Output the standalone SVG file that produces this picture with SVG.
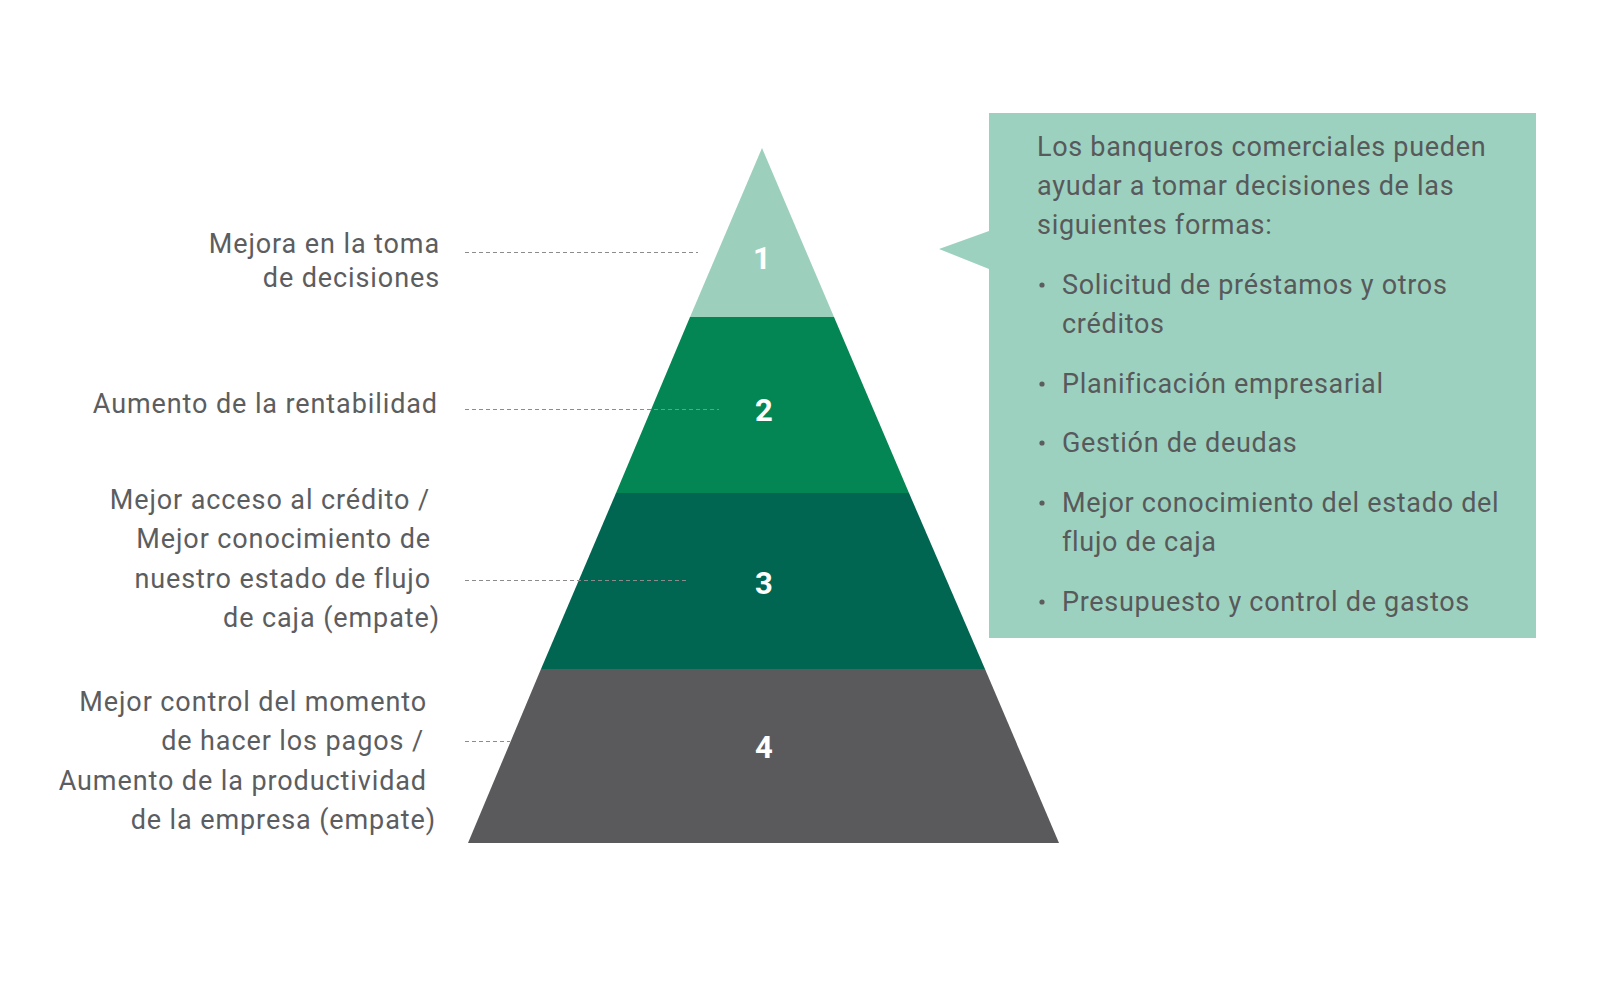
<svg xmlns="http://www.w3.org/2000/svg" width="1600" height="1000" viewBox="0 0 1600 1000">
<style>
.lbl{font-family:Roboto,"Open Sans","Liberation Sans",sans-serif;font-size:27px;fill:#5c5d5f;text-anchor:end;letter-spacing:0.9px}
.box{font-family:Roboto,"Open Sans","Liberation Sans",sans-serif;font-size:27px;fill:#58595b;letter-spacing:0.7px}
.num{font-family:Roboto,"Open Sans","Liberation Sans",sans-serif;font-size:31px;font-weight:bold;fill:#ffffff;text-anchor:middle}
.dash{stroke:#8c8c8c;stroke-width:1.2;stroke-dasharray:4 3;fill:none}
</style>
<rect width="1600" height="1000" fill="#ffffff"/>
<g id="tier1"><polygon points="762,148 834,317 690,317" fill="#9cd0bd"/><text class="num" x="762" y="269">1</text></g>
<g id="tier2"><polygon points="690,317 834,317 909,493 616,493" fill="#038654"/><text class="num" x="764" y="421">2</text></g>
<g id="tier3"><polygon points="616,493 909,493 985,669 541,669" fill="#006651"/><text class="num" x="764" y="594">3</text></g>
<g id="tier4"><polygon points="541,669 985,669 1059,843 468,843" fill="#5a5a5c"/><text class="num" x="764" y="758">4</text></g>
<g id="connectors">
<line class="dash" x1="465" y1="252.5" x2="698" y2="252.5"/>
<line class="dash" x1="465" y1="409.5" x2="719" y2="409.5"/>
<line class="dash" x1="465" y1="580.5" x2="689" y2="580.5"/>
<line class="dash" x1="465" y1="741.5" x2="510" y2="741.5"/>
</g>
<g id="label1">
<text class="lbl" x="440" y="253">Mejora en la toma</text>
<text class="lbl" x="440" y="287">de decisiones</text>
</g>
<g id="label2">
<text class="lbl" x="438" y="413">Aumento de la rentabilidad</text>
</g>
<g id="label3">
<text class="lbl" x="430" y="509">Mejor acceso al crédito /</text>
<text class="lbl" x="431" y="548">Mejor conocimiento de</text>
<text class="lbl" x="431" y="588">nuestro estado de flujo</text>
<text class="lbl" x="440" y="627">de caja (empate)</text>
</g>
<g id="label4">
<text class="lbl" x="427" y="711">Mejor control del momento</text>
<text class="lbl" x="424" y="750">de hacer los pagos /</text>
<text class="lbl" x="427" y="790">Aumento de la productividad</text>
<text class="lbl" x="436" y="829">de la empresa (empate)</text>
</g>
<g id="callout">
<polygon points="989,113 1536,113 1536,638 989,638 989,269 939,249 989,231" fill="#9dd1bf"/>
<text class="box" x="1037" y="156">Los banqueros comerciales pueden</text>
<text class="box" x="1037" y="195">ayudar a tomar decisiones de las</text>
<text class="box" x="1037" y="234">siguientes formas:</text>
<g fill="#5c5d5f">
<circle cx="1042" cy="285" r="2.6"/>
<circle cx="1042" cy="384" r="2.6"/>
<circle cx="1042" cy="443" r="2.6"/>
<circle cx="1042" cy="503" r="2.6"/>
<circle cx="1042" cy="602" r="2.6"/>
</g>
<text class="box" x="1062" y="294">Solicitud de préstamos y otros</text>
<text class="box" x="1062" y="333">créditos</text>
<text class="box" x="1062" y="393">Planificación empresarial</text>
<text class="box" x="1062" y="452">Gestión de deudas</text>
<text class="box" x="1062" y="512">Mejor conocimiento del estado del</text>
<text class="box" x="1062" y="551">flujo de caja</text>
<text class="box" x="1062" y="611">Presupuesto y control de gastos</text>
</g>
</svg>
